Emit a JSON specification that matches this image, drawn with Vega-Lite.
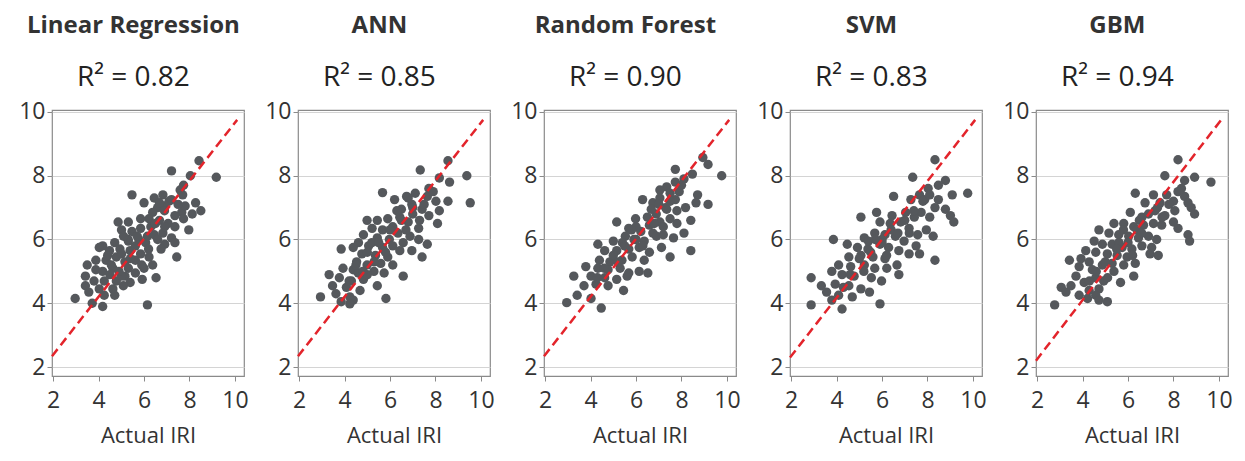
{
  "$schema": "https://vega.github.io/schema/vega-lite/v6.json",
  "padding": {"left": 18, "top": 13, "right": 5, "bottom": 5},
  "background": "white",
  "config": {
    "font": "Open Sans",
    "view": {"stroke": "#8a8a8a", "strokeWidth": 1.2},
    "concat": {"spacing": 15},
    "title": {"font": "Open Sans", "fontSize": 24, "fontWeight": "bold", "color": "#333333", "subtitleFont": "Open Sans", "subtitleFontSize": 28, "subtitleColor": "#222222", "subtitlePadding": 26, "offset": 9, "anchor": "middle", "frame": "bounds"},
    "axisX": {"grid": false, "domain": false, "tickColor": "#8a8a8a", "tickSize": 5, "labelFontSize": 23, "labelColor": "#333333", "labelPadding": 8, "titleFontSize": 22, "titleFontWeight": "normal", "titleColor": "#333333", "titlePadding": 13, "labelFont": "Open Sans", "titleFont": "Open Sans"},
    "axisY": {"grid": true, "gridColor": "#d4d4d4", "domain": false, "tickColor": "#8a8a8a", "tickSize": 5, "labelFontSize": 23, "labelColor": "#333333", "labelPadding": 2, "labelFont": "Open Sans"}
  },
  "datasets": {
    "points": [
      {"model":"LR","actual":8.42,"predicted":8.47},{"model":"LR","actual":7.21,"predicted":8.15},{"model":"LR","actual":9.18,"predicted":7.95},{"model":"LR","actual":8.04,"predicted":8.0},{"model":"LR","actual":7.74,"predicted":7.7},{"model":"LR","actual":7.59,"predicted":7.55},{"model":"LR","actual":5.47,"predicted":7.4},{"model":"LR","actual":6.0,"predicted":7.15},{"model":"LR","actual":6.45,"predicted":7.3},{"model":"LR","actual":6.83,"predicted":7.4},{"model":"LR","actual":7.21,"predicted":7.25},{"model":"LR","actual":6.91,"predicted":7.05},{"model":"LR","actual":8.27,"predicted":7.15},{"model":"LR","actual":8.5,"predicted":6.9},{"model":"LR","actual":8.12,"predicted":6.8},{"model":"LR","actual":7.66,"predicted":6.85},{"model":"LR","actual":7.36,"predicted":6.75},{"model":"LR","actual":6.6,"predicted":7.0},{"model":"LR","actual":6.38,"predicted":6.85},{"model":"LR","actual":6.22,"predicted":6.65},{"model":"LR","actual":6.68,"predicted":6.6},{"model":"LR","actual":7.06,"predicted":6.5},{"model":"LR","actual":7.97,"predicted":6.3},{"model":"LR","actual":7.36,"predicted":6.4},{"model":"LR","actual":5.31,"predicted":6.55},{"model":"LR","actual":4.86,"predicted":6.55},{"model":"LR","actual":5.01,"predicted":6.3},{"model":"LR","actual":5.47,"predicted":6.25},{"model":"LR","actual":5.85,"predicted":6.35},{"model":"LR","actual":6.15,"predicted":6.1},{"model":"LR","actual":6.45,"predicted":6.15},{"model":"LR","actual":6.83,"predicted":6.2},{"model":"LR","actual":7.21,"predicted":6.05},{"model":"LR","actual":6.91,"predicted":5.85},{"model":"LR","actual":7.36,"predicted":5.9},{"model":"LR","actual":6.75,"predicted":5.7},{"model":"LR","actual":7.44,"predicted":5.45},{"model":"LR","actual":6.07,"predicted":5.9},{"model":"LR","actual":5.77,"predicted":6.0},{"model":"LR","actual":5.31,"predicted":5.95},{"model":"LR","actual":4.71,"predicted":5.9},{"model":"LR","actual":4.18,"predicted":5.8},{"model":"LR","actual":4.03,"predicted":5.75},{"model":"LR","actual":4.48,"predicted":5.65},{"model":"LR","actual":4.94,"predicted":5.7},{"model":"LR","actual":5.39,"predicted":5.65},{"model":"LR","actual":5.85,"predicted":5.55},{"model":"LR","actual":6.22,"predicted":5.45},{"model":"LR","actual":5.62,"predicted":5.35},{"model":"LR","actual":5.16,"predicted":5.3},{"model":"LR","actual":4.78,"predicted":5.45},{"model":"LR","actual":4.33,"predicted":5.35},{"model":"LR","actual":3.5,"predicted":5.2},{"model":"LR","actual":3.88,"predicted":5.05},{"model":"LR","actual":4.63,"predicted":5.1},{"model":"LR","actual":5.31,"predicted":5.1},{"model":"LR","actual":6.38,"predicted":5.2},{"model":"LR","actual":6.0,"predicted":5.1},{"model":"LR","actual":5.62,"predicted":4.95},{"model":"LR","actual":5.16,"predicted":4.85},{"model":"LR","actual":6.53,"predicted":4.8},{"model":"LR","actual":3.42,"predicted":4.85},{"model":"LR","actual":3.8,"predicted":4.7},{"model":"LR","actual":4.25,"predicted":4.7},{"model":"LR","actual":4.78,"predicted":4.7},{"model":"LR","actual":5.39,"predicted":4.65},{"model":"LR","actual":3.42,"predicted":4.55},{"model":"LR","actual":4.03,"predicted":4.45},{"model":"LR","actual":4.63,"predicted":4.45},{"model":"LR","actual":2.97,"predicted":4.15},{"model":"LR","actual":3.57,"predicted":4.35},{"model":"LR","actual":4.25,"predicted":4.25},{"model":"LR","actual":4.71,"predicted":4.25},{"model":"LR","actual":3.72,"predicted":4.0},{"model":"LR","actual":4.18,"predicted":3.9},{"model":"LR","actual":6.15,"predicted":3.95},{"model":"LR","actual":5.01,"predicted":4.85},{"model":"LR","actual":5.09,"predicted":4.55},{"model":"LR","actual":5.85,"predicted":6.65},{"model":"LR","actual":6.3,"predicted":6.4},{"model":"LR","actual":5.62,"predicted":5.8},{"model":"LR","actual":5.01,"predicted":5.55},{"model":"LR","actual":4.56,"predicted":5.2},{"model":"LR","actual":4.18,"predicted":5.0},{"model":"LR","actual":5.92,"predicted":4.75},{"model":"LR","actual":6.91,"predicted":6.4},{"model":"LR","actual":7.74,"predicted":6.65},{"model":"LR","actual":7.81,"predicted":7.05},{"model":"LR","actual":6.68,"predicted":7.15},{"model":"LR","actual":3.88,"predicted":5.35},
      {"model":"LR","actual":5.3,"predicted":6.0},{"model":"LR","actual":5.7,"predicted":6.1},{"model":"LR","actual":6.5,"predicted":6.5},{"model":"LR","actual":6.9,"predicted":6.9},{"model":"LR","actual":7.1,"predicted":7.2},{"model":"LR","actual":7.5,"predicted":7.1},{"model":"LR","actual":5.9,"predicted":5.2},{"model":"LR","actual":5.4,"predicted":5.4},{"model":"LR","actual":4.9,"predicted":5.0},{"model":"LR","actual":4.5,"predicted":4.9},{"model":"LR","actual":6.2,"predicted":5.7},{"model":"LR","actual":6.6,"predicted":6.0},{"model":"LR","actual":7.7,"predicted":7.4},{"model":"LR","actual":4.4,"predicted":5.5},{"model":"LR","actual":5.1,"predicted":6.1},

      {"model":"ANN","actual":8.55,"predicted":8.47},{"model":"ANN","actual":7.33,"predicted":8.18},{"model":"ANN","actual":9.38,"predicted":8.0},{"model":"ANN","actual":8.17,"predicted":7.93},{"model":"ANN","actual":8.62,"predicted":7.8},{"model":"ANN","actual":9.53,"predicted":7.15},{"model":"ANN","actual":5.67,"predicted":7.47},{"model":"ANN","actual":6.2,"predicted":7.25},{"model":"ANN","actual":6.73,"predicted":7.35},{"model":"ANN","actual":7.11,"predicted":7.45},{"model":"ANN","actual":7.71,"predicted":7.6},{"model":"ANN","actual":7.64,"predicted":7.35},{"model":"ANN","actual":8.02,"predicted":7.2},{"model":"ANN","actual":8.55,"predicted":7.2},{"model":"ANN","actual":8.17,"predicted":6.9},{"model":"ANN","actual":8.09,"predicted":6.5},{"model":"ANN","actual":7.71,"predicted":6.75},{"model":"ANN","actual":7.41,"predicted":6.95},{"model":"ANN","actual":6.96,"predicted":7.1},{"model":"ANN","actual":6.5,"predicted":6.95},{"model":"ANN","actual":6.43,"predicted":6.7},{"model":"ANN","actual":6.8,"predicted":6.55},{"model":"ANN","actual":7.26,"predicted":6.35},{"model":"ANN","actual":4.99,"predicted":6.6},{"model":"ANN","actual":5.44,"predicted":6.6},{"model":"ANN","actual":5.9,"predicted":6.65},{"model":"ANN","actual":5.21,"predicted":6.35},{"model":"ANN","actual":5.67,"predicted":6.3},{"model":"ANN","actual":6.12,"predicted":6.4},{"model":"ANN","actual":6.35,"predicted":6.2},{"model":"ANN","actual":6.88,"predicted":6.1},{"model":"ANN","actual":7.26,"predicted":6.0},{"model":"ANN","actual":7.64,"predicted":5.85},{"model":"ANN","actual":6.58,"predicted":5.9},{"model":"ANN","actual":4.83,"predicted":6.15},{"model":"ANN","actual":5.44,"predicted":6.05},{"model":"ANN","actual":5.97,"predicted":6.0},{"model":"ANN","actual":4.61,"predicted":5.9},{"model":"ANN","actual":5.06,"predicted":5.8},{"model":"ANN","actual":5.67,"predicted":5.75},{"model":"ANN","actual":6.12,"predicted":5.8},{"model":"ANN","actual":6.43,"predicted":5.65},{"model":"ANN","actual":6.96,"predicted":5.65},{"model":"ANN","actual":7.41,"predicted":5.45},{"model":"ANN","actual":4.38,"predicted":5.75},{"model":"ANN","actual":3.85,"predicted":5.7},{"model":"ANN","actual":4.76,"predicted":5.55},{"model":"ANN","actual":5.36,"predicted":5.5},{"model":"ANN","actual":5.9,"predicted":5.45},{"model":"ANN","actual":4.53,"predicted":5.3},{"model":"ANN","actual":4.99,"predicted":5.2},{"model":"ANN","actual":5.59,"predicted":5.25},{"model":"ANN","actual":6.12,"predicted":5.2},{"model":"ANN","actual":3.93,"predicted":5.1},{"model":"ANN","actual":4.38,"predicted":5.05},{"model":"ANN","actual":5.29,"predicted":5.0},{"model":"ANN","actual":5.74,"predicted":4.95},{"model":"ANN","actual":6.58,"predicted":4.85},{"model":"ANN","actual":3.32,"predicted":4.9},{"model":"ANN","actual":3.77,"predicted":4.8},{"model":"ANN","actual":4.3,"predicted":4.7},{"model":"ANN","actual":4.83,"predicted":4.75},{"model":"ANN","actual":5.44,"predicted":4.55},{"model":"ANN","actual":3.47,"predicted":4.55},{"model":"ANN","actual":4.08,"predicted":4.5},{"model":"ANN","actual":4.68,"predicted":4.4},{"model":"ANN","actual":2.94,"predicted":4.2},{"model":"ANN","actual":3.62,"predicted":4.3},{"model":"ANN","actual":4.23,"predicted":4.2},{"model":"ANN","actual":5.82,"predicted":4.15},{"model":"ANN","actual":3.85,"predicted":4.05},{"model":"ANN","actual":4.38,"predicted":4.1},{"model":"ANN","actual":4.23,"predicted":3.98},{"model":"ANN","actual":5.2,"predicted":5.9},{"model":"ANN","actual":6.7,"predicted":6.3},{"model":"ANN","actual":7.0,"predicted":6.8},{"model":"ANN","actual":5.0,"predicted":4.9},{"model":"ANN","actual":4.6,"predicted":4.95},
      {"model":"ANN","actual":5.0,"predicted":5.6},{"model":"ANN","actual":5.5,"predicted":5.9},{"model":"ANN","actual":6.0,"predicted":6.3},{"model":"ANN","actual":6.5,"predicted":6.6},{"model":"ANN","actual":7.0,"predicted":7.0},{"model":"ANN","actual":7.5,"predicted":7.1},{"model":"ANN","actual":4.5,"predicted":5.2},{"model":"ANN","actual":5.8,"predicted":5.6},{"model":"ANN","actual":6.3,"predicted":6.9},{"model":"ANN","actual":7.3,"predicted":6.6},{"model":"ANN","actual":4.8,"predicted":5.0},{"model":"ANN","actual":5.3,"predicted":5.3},{"model":"ANN","actual":6.8,"predicted":7.3},{"model":"ANN","actual":4.2,"predicted":4.7},{"model":"ANN","actual":7.9,"predicted":7.5},

      {"model":"RF","actual":8.94,"predicted":8.57},{"model":"RF","actual":7.73,"predicted":8.2},{"model":"RF","actual":9.17,"predicted":8.35},{"model":"RF","actual":9.77,"predicted":8.0},{"model":"RF","actual":8.48,"predicted":8.05},{"model":"RF","actual":8.11,"predicted":7.9},{"model":"RF","actual":7.73,"predicted":7.8},{"model":"RF","actual":7.35,"predicted":7.65},{"model":"RF","actual":7.05,"predicted":7.55},{"model":"RF","actual":6.29,"predicted":7.25},{"model":"RF","actual":6.74,"predicted":7.15},{"model":"RF","actual":7.05,"predicted":7.3},{"model":"RF","actual":7.5,"predicted":7.45},{"model":"RF","actual":7.73,"predicted":7.25},{"model":"RF","actual":8.71,"predicted":7.4},{"model":"RF","actual":8.64,"predicted":7.15},{"model":"RF","actual":9.17,"predicted":7.1},{"model":"RF","actual":8.18,"predicted":7.0},{"model":"RF","actual":7.8,"predicted":6.9},{"model":"RF","actual":7.35,"predicted":6.95},{"model":"RF","actual":6.89,"predicted":6.8},{"model":"RF","actual":6.67,"predicted":6.95},{"model":"RF","actual":8.41,"predicted":6.6},{"model":"RF","actual":8.11,"predicted":6.2},{"model":"RF","actual":7.8,"predicted":6.5},{"model":"RF","actual":7.5,"predicted":6.65},{"model":"RF","actual":7.05,"predicted":6.55},{"model":"RF","actual":6.59,"predicted":6.45},{"model":"RF","actual":5.98,"predicted":6.65},{"model":"RF","actual":5.15,"predicted":6.55},{"model":"RF","actual":5.68,"predicted":6.35},{"model":"RF","actual":6.21,"predicted":6.25},{"model":"RF","actual":6.74,"predicted":6.2},{"model":"RF","actual":7.2,"predicted":6.15},{"model":"RF","actual":7.65,"predicted":6.05},{"model":"RF","actual":5.53,"predicted":6.1},{"model":"RF","actual":5.0,"predicted":5.95},{"model":"RF","actual":5.91,"predicted":6.0},{"model":"RF","actual":6.36,"predicted":5.95},{"model":"RF","actual":7.12,"predicted":5.75},{"model":"RF","actual":7.5,"predicted":5.45},{"model":"RF","actual":8.41,"predicted":5.65},{"model":"RF","actual":4.32,"predicted":5.85},{"model":"RF","actual":4.62,"predicted":5.65},{"model":"RF","actual":5.15,"predicted":5.65},{"model":"RF","actual":5.68,"predicted":5.7},{"model":"RF","actual":6.14,"predicted":5.75},{"model":"RF","actual":6.59,"predicted":5.6},{"model":"RF","actual":6.36,"predicted":5.35},{"model":"RF","actual":5.83,"predicted":5.45},{"model":"RF","actual":5.38,"predicted":5.35},{"model":"RF","actual":4.85,"predicted":5.3},{"model":"RF","actual":4.39,"predicted":5.35},{"model":"RF","actual":3.79,"predicted":5.15},{"model":"RF","actual":4.32,"predicted":5.1},{"model":"RF","actual":4.77,"predicted":5.05},{"model":"RF","actual":5.3,"predicted":5.1},{"model":"RF","actual":5.68,"predicted":4.95},{"model":"RF","actual":6.14,"predicted":5.0},{"model":"RF","actual":6.52,"predicted":4.95},{"model":"RF","actual":3.26,"predicted":4.85},{"model":"RF","actual":4.02,"predicted":4.85},{"model":"RF","actual":4.62,"predicted":4.8},{"model":"RF","actual":5.15,"predicted":4.75},{"model":"RF","actual":5.61,"predicted":4.85},{"model":"RF","actual":3.71,"predicted":4.55},{"model":"RF","actual":4.24,"predicted":4.6},{"model":"RF","actual":4.77,"predicted":4.55},{"model":"RF","actual":5.45,"predicted":4.4},{"model":"RF","actual":3.41,"predicted":4.25},{"model":"RF","actual":4.02,"predicted":4.15},{"model":"RF","actual":4.47,"predicted":3.85},{"model":"RF","actual":2.95,"predicted":4.02},{"model":"RF","actual":6.0,"predicted":6.4},{"model":"RF","actual":7.3,"predicted":7.0},{"model":"RF","actual":6.9,"predicted":6.1},{"model":"RF","actual":5.4,"predicted":5.9},
      {"model":"RF","actual":5.0,"predicted":5.5},{"model":"RF","actual":5.5,"predicted":5.8},{"model":"RF","actual":6.0,"predicted":6.0},{"model":"RF","actual":6.5,"predicted":6.7},{"model":"RF","actual":7.0,"predicted":7.1},{"model":"RF","actual":7.5,"predicted":7.2},{"model":"RF","actual":7.9,"predicted":7.5},{"model":"RF","actual":4.6,"predicted":5.1},{"model":"RF","actual":5.2,"predicted":5.3},{"model":"RF","actual":6.3,"predicted":5.8},{"model":"RF","actual":6.8,"predicted":6.5},{"model":"RF","actual":7.2,"predicted":6.4},{"model":"RF","actual":8.0,"predicted":7.7},{"model":"RF","actual":4.3,"predicted":4.8},{"model":"RF","actual":5.8,"predicted":6.3},

      {"model":"SVM","actual":8.33,"predicted":8.5},{"model":"SVM","actual":7.35,"predicted":7.95},{"model":"SVM","actual":8.79,"predicted":7.85},{"model":"SVM","actual":8.48,"predicted":7.7},{"model":"SVM","actual":8.03,"predicted":7.6},{"model":"SVM","actual":7.65,"predicted":7.4},{"model":"SVM","actual":6.51,"predicted":7.35},{"model":"SVM","actual":7.27,"predicted":7.25},{"model":"SVM","actual":7.88,"predicted":7.25},{"model":"SVM","actual":9.09,"predicted":7.4},{"model":"SVM","actual":9.77,"predicted":7.45},{"model":"SVM","actual":8.48,"predicted":7.25},{"model":"SVM","actual":8.33,"predicted":7.0},{"model":"SVM","actual":8.79,"predicted":6.95},{"model":"SVM","actual":9.01,"predicted":6.75},{"model":"SVM","actual":9.16,"predicted":6.55},{"model":"SVM","actual":8.1,"predicted":6.7},{"model":"SVM","actual":7.72,"predicted":6.85},{"model":"SVM","actual":7.42,"predicted":6.7},{"model":"SVM","actual":7.04,"predicted":6.85},{"model":"SVM","actual":6.44,"predicted":6.75},{"model":"SVM","actual":5.07,"predicted":6.7},{"model":"SVM","actual":5.76,"predicted":6.85},{"model":"SVM","actual":5.91,"predicted":6.55},{"model":"SVM","actual":6.36,"predicted":6.5},{"model":"SVM","actual":6.82,"predicted":6.55},{"model":"SVM","actual":7.19,"predicted":6.35},{"model":"SVM","actual":7.95,"predicted":6.3},{"model":"SVM","actual":7.57,"predicted":6.15},{"model":"SVM","actual":8.25,"predicted":6.1},{"model":"SVM","actual":3.86,"predicted":6.0},{"model":"SVM","actual":4.47,"predicted":5.85},{"model":"SVM","actual":5.22,"predicted":6.05},{"model":"SVM","actual":5.68,"predicted":6.2},{"model":"SVM","actual":6.13,"predicted":6.15},{"model":"SVM","actual":6.59,"predicted":6.1},{"model":"SVM","actual":6.97,"predicted":5.95},{"model":"SVM","actual":7.5,"predicted":5.8},{"model":"SVM","actual":7.19,"predicted":5.55},{"model":"SVM","actual":7.65,"predicted":5.55},{"model":"SVM","actual":8.33,"predicted":5.35},{"model":"SVM","actual":4.92,"predicted":5.75},{"model":"SVM","actual":5.38,"predicted":5.7},{"model":"SVM","actual":5.91,"predicted":5.85},{"model":"SVM","actual":6.29,"predicted":5.75},{"model":"SVM","actual":6.74,"predicted":5.65},{"model":"SVM","actual":4.54,"predicted":5.45},{"model":"SVM","actual":5.07,"predicted":5.5},{"model":"SVM","actual":5.6,"predicted":5.45},{"model":"SVM","actual":6.13,"predicted":5.4},{"model":"SVM","actual":6.66,"predicted":5.2},{"model":"SVM","actual":4.09,"predicted":5.2},{"model":"SVM","actual":4.62,"predicted":5.15},{"model":"SVM","actual":5.22,"predicted":5.2},{"model":"SVM","actual":5.68,"predicted":5.1},{"model":"SVM","actual":6.21,"predicted":5.1},{"model":"SVM","actual":6.74,"predicted":4.9},{"model":"SVM","actual":2.88,"predicted":4.8},{"model":"SVM","actual":3.79,"predicted":5.0},{"model":"SVM","actual":4.24,"predicted":4.9},{"model":"SVM","actual":4.77,"predicted":4.85},{"model":"SVM","actual":5.53,"predicted":4.8},{"model":"SVM","actual":5.98,"predicted":4.7},{"model":"SVM","actual":3.33,"predicted":4.55},{"model":"SVM","actual":3.94,"predicted":4.6},{"model":"SVM","actual":4.54,"predicted":4.55},{"model":"SVM","actual":5.07,"predicted":4.45},{"model":"SVM","actual":5.45,"predicted":4.35},{"model":"SVM","actual":3.56,"predicted":4.35},{"model":"SVM","actual":4.09,"predicted":4.25},{"model":"SVM","actual":4.69,"predicted":4.2},{"model":"SVM","actual":2.88,"predicted":3.95},{"model":"SVM","actual":4.24,"predicted":3.82},{"model":"SVM","actual":5.91,"predicted":3.98},{"model":"SVM","actual":3.79,"predicted":4.1},{"model":"SVM","actual":6.0,"predicted":6.0},{"model":"SVM","actual":5.4,"predicted":5.95},
      {"model":"SVM","actual":5.0,"predicted":5.4},{"model":"SVM","actual":5.5,"predicted":5.6},{"model":"SVM","actual":6.0,"predicted":5.9},{"model":"SVM","actual":6.4,"predicted":6.3},{"model":"SVM","actual":7.0,"predicted":6.6},{"model":"SVM","actual":7.4,"predicted":6.9},{"model":"SVM","actual":7.8,"predicted":7.2},{"model":"SVM","actual":4.6,"predicted":4.9},{"model":"SVM","actual":5.2,"predicted":5.0},{"model":"SVM","actual":6.2,"predicted":5.5},{"model":"SVM","actual":6.7,"predicted":6.2},{"model":"SVM","actual":7.2,"predicted":6.2},{"model":"SVM","actual":8.1,"predicted":7.4},{"model":"SVM","actual":4.3,"predicted":4.5},{"model":"SVM","actual":5.7,"predicted":6.0},

      {"model":"GBM","actual":8.2,"predicted":8.5},{"model":"GBM","actual":7.62,"predicted":8.0},{"model":"GBM","actual":8.93,"predicted":7.95},{"model":"GBM","actual":9.65,"predicted":7.8},{"model":"GBM","actual":8.49,"predicted":7.85},{"model":"GBM","actual":8.35,"predicted":7.6},{"model":"GBM","actual":6.32,"predicted":7.45},{"model":"GBM","actual":7.12,"predicted":7.4},{"model":"GBM","actual":7.7,"predicted":7.4},{"model":"GBM","actual":8.49,"predicted":7.35},{"model":"GBM","actual":8.0,"predicted":7.2},{"model":"GBM","actual":7.41,"predicted":7.15},{"model":"GBM","actual":6.75,"predicted":7.15},{"model":"GBM","actual":8.64,"predicted":7.15},{"model":"GBM","actual":8.93,"predicted":6.8},{"model":"GBM","actual":8.78,"predicted":7.0},{"model":"GBM","actual":8.06,"predicted":6.9},{"model":"GBM","actual":7.62,"predicted":6.75},{"model":"GBM","actual":7.19,"predicted":6.9},{"model":"GBM","actual":6.1,"predicted":6.85},{"model":"GBM","actual":6.61,"predicted":6.7},{"model":"GBM","actual":8.0,"predicted":6.55},{"model":"GBM","actual":8.2,"predicted":6.35},{"model":"GBM","actual":8.64,"predicted":6.15},{"model":"GBM","actual":8.71,"predicted":5.95},{"model":"GBM","actual":5.38,"predicted":6.5},{"model":"GBM","actual":5.81,"predicted":6.5},{"model":"GBM","actual":6.25,"predicted":6.4},{"model":"GBM","actual":6.68,"predicted":6.45},{"model":"GBM","actual":7.12,"predicted":6.5},{"model":"GBM","actual":7.48,"predicted":6.45},{"model":"GBM","actual":4.72,"predicted":6.3},{"model":"GBM","actual":5.16,"predicted":6.2},{"model":"GBM","actual":5.59,"predicted":6.15},{"model":"GBM","actual":6.03,"predicted":6.1},{"model":"GBM","actual":6.46,"predicted":6.05},{"model":"GBM","actual":6.9,"predicted":6.1},{"model":"GBM","actual":7.26,"predicted":6.0},{"model":"GBM","actual":6.61,"predicted":5.8},{"model":"GBM","actual":7.04,"predicted":5.75},{"model":"GBM","actual":6.97,"predicted":5.55},{"model":"GBM","actual":7.33,"predicted":5.5},{"model":"GBM","actual":4.51,"predicted":5.95},{"model":"GBM","actual":4.87,"predicted":5.85},{"model":"GBM","actual":5.3,"predicted":5.85},{"model":"GBM","actual":5.74,"predicted":5.75},{"model":"GBM","actual":6.17,"predicted":5.7},{"model":"GBM","actual":4.14,"predicted":5.65},{"model":"GBM","actual":4.58,"predicted":5.6},{"model":"GBM","actual":5.09,"predicted":5.55},{"model":"GBM","actual":5.52,"predicted":5.5},{"model":"GBM","actual":5.96,"predicted":5.45},{"model":"GBM","actual":3.42,"predicted":5.35},{"model":"GBM","actual":3.93,"predicted":5.4},{"model":"GBM","actual":4.29,"predicted":5.3},{"model":"GBM","actual":4.87,"predicted":5.2},{"model":"GBM","actual":5.3,"predicted":5.25},{"model":"GBM","actual":5.81,"predicted":5.2},{"model":"GBM","actual":6.32,"predicted":5.25},{"model":"GBM","actual":3.85,"predicted":5.15},{"model":"GBM","actual":4.43,"predicted":5.05},{"model":"GBM","actual":5.38,"predicted":5.0},{"model":"GBM","actual":6.25,"predicted":4.85},{"model":"GBM","actual":3.71,"predicted":4.85},{"model":"GBM","actual":4.07,"predicted":4.65},{"model":"GBM","actual":4.58,"predicted":4.8},{"model":"GBM","actual":4.93,"predicted":4.7},{"model":"GBM","actual":5.67,"predicted":4.65},{"model":"GBM","actual":3.06,"predicted":4.5},{"model":"GBM","actual":3.49,"predicted":4.55},{"model":"GBM","actual":3.27,"predicted":4.35},{"model":"GBM","actual":4.29,"predicted":4.4},{"model":"GBM","actual":4.72,"predicted":4.45},{"model":"GBM","actual":4.58,"predicted":4.25},{"model":"GBM","actual":2.77,"predicted":3.95},{"model":"GBM","actual":4.22,"predicted":4.15},{"model":"GBM","actual":4.72,"predicted":4.1},{"model":"GBM","actual":5.09,"predicted":4.05},{"model":"GBM","actual":3.85,"predicted":4.25},{"model":"GBM","actual":5.6,"predicted":5.9},{"model":"GBM","actual":6.5,"predicted":6.6},
      {"model":"GBM","actual":5.0,"predicted":5.3},{"model":"GBM","actual":5.5,"predicted":5.7},{"model":"GBM","actual":6.0,"predicted":5.9},{"model":"GBM","actual":6.4,"predicted":6.3},{"model":"GBM","actual":6.9,"predicted":6.8},{"model":"GBM","actual":7.3,"predicted":7.0},{"model":"GBM","actual":7.8,"predicted":7.1},{"model":"GBM","actual":4.6,"predicted":5.0},{"model":"GBM","actual":5.1,"predicted":4.8},{"model":"GBM","actual":6.2,"predicted":5.5},{"model":"GBM","actual":6.6,"predicted":6.2},{"model":"GBM","actual":7.5,"predicted":6.7},{"model":"GBM","actual":8.2,"predicted":7.5},{"model":"GBM","actual":4.3,"predicted":4.7},{"model":"GBM","actual":5.8,"predicted":6.3}
    ],
    "lines": [
      {"model":"LR","actual":1.95,"predicted":2.34},{"model":"LR","actual":10.1,"predicted":9.75},
      {"model":"ANN","actual":1.95,"predicted":2.34},{"model":"ANN","actual":10.1,"predicted":9.75},
      {"model":"RF","actual":1.95,"predicted":2.34},{"model":"RF","actual":10.1,"predicted":9.75},
      {"model":"SVM","actual":1.95,"predicted":2.3},{"model":"SVM","actual":10.1,"predicted":9.75},
      {"model":"GBM","actual":1.95,"predicted":2.2},{"model":"GBM","actual":10.1,"predicted":9.75}
    ]
  },
  "hconcat": [
    {"width": 192, "height": 266, "title": {"text": "Linear Regression", "subtitle": "R² = 0.82"},
     "layer": [
      {"data": {"name": "points"}, "transform": [{"filter": "datum.model === 'LR'"}], "mark": {"type": "circle", "size": 88, "color": "#55585c", "opacity": 1},
       "encoding": {"x": {"field": "actual", "type": "quantitative", "scale": {"domain": [1.95, 10.4], "nice": false, "zero": false}, "axis": {"values": [2, 4, 6, 8, 10], "title": "Actual IRI"}}, "y": {"field": "predicted", "type": "quantitative", "scale": {"domain": [1.72, 10.06], "nice": false, "zero": false}, "axis": {"values": [2, 4, 6, 8, 10], "title": null}}}},
      {"data": {"name": "lines"}, "transform": [{"filter": "datum.model === 'LR'"}], "mark": {"type": "line", "color": "#e3242b", "strokeWidth": 2.5, "strokeDash": [9, 5]},
       "encoding": {"x": {"field": "actual", "type": "quantitative"}, "y": {"field": "predicted", "type": "quantitative"}}}
     ]},
    {"width": 192, "height": 266, "title": {"text": "ANN", "subtitle": "R² = 0.85"},
     "layer": [
      {"data": {"name": "points"}, "transform": [{"filter": "datum.model === 'ANN'"}], "mark": {"type": "circle", "size": 88, "color": "#55585c", "opacity": 1},
       "encoding": {"x": {"field": "actual", "type": "quantitative", "scale": {"domain": [1.95, 10.4], "nice": false, "zero": false}, "axis": {"values": [2, 4, 6, 8, 10], "title": "Actual IRI"}}, "y": {"field": "predicted", "type": "quantitative", "scale": {"domain": [1.72, 10.06], "nice": false, "zero": false}, "axis": {"values": [2, 4, 6, 8, 10], "title": null}}}},
      {"data": {"name": "lines"}, "transform": [{"filter": "datum.model === 'ANN'"}], "mark": {"type": "line", "color": "#e3242b", "strokeWidth": 2.5, "strokeDash": [9, 5]},
       "encoding": {"x": {"field": "actual", "type": "quantitative"}, "y": {"field": "predicted", "type": "quantitative"}}}
     ]},
    {"width": 192, "height": 266, "title": {"text": "Random Forest", "subtitle": "R² = 0.90"},
     "layer": [
      {"data": {"name": "points"}, "transform": [{"filter": "datum.model === 'RF'"}], "mark": {"type": "circle", "size": 88, "color": "#55585c", "opacity": 1},
       "encoding": {"x": {"field": "actual", "type": "quantitative", "scale": {"domain": [1.95, 10.4], "nice": false, "zero": false}, "axis": {"values": [2, 4, 6, 8, 10], "title": "Actual IRI"}}, "y": {"field": "predicted", "type": "quantitative", "scale": {"domain": [1.72, 10.06], "nice": false, "zero": false}, "axis": {"values": [2, 4, 6, 8, 10], "title": null}}}},
      {"data": {"name": "lines"}, "transform": [{"filter": "datum.model === 'RF'"}], "mark": {"type": "line", "color": "#e3242b", "strokeWidth": 2.5, "strokeDash": [9, 5]},
       "encoding": {"x": {"field": "actual", "type": "quantitative"}, "y": {"field": "predicted", "type": "quantitative"}}}
     ]},
    {"width": 192, "height": 266, "title": {"text": "SVM", "subtitle": "R² = 0.83"},
     "layer": [
      {"data": {"name": "points"}, "transform": [{"filter": "datum.model === 'SVM'"}], "mark": {"type": "circle", "size": 88, "color": "#55585c", "opacity": 1},
       "encoding": {"x": {"field": "actual", "type": "quantitative", "scale": {"domain": [1.95, 10.4], "nice": false, "zero": false}, "axis": {"values": [2, 4, 6, 8, 10], "title": "Actual IRI"}}, "y": {"field": "predicted", "type": "quantitative", "scale": {"domain": [1.72, 10.06], "nice": false, "zero": false}, "axis": {"values": [2, 4, 6, 8, 10], "title": null}}}},
      {"data": {"name": "lines"}, "transform": [{"filter": "datum.model === 'SVM'"}], "mark": {"type": "line", "color": "#e3242b", "strokeWidth": 2.5, "strokeDash": [9, 5]},
       "encoding": {"x": {"field": "actual", "type": "quantitative"}, "y": {"field": "predicted", "type": "quantitative"}}}
     ]},
    {"width": 192, "height": 266, "title": {"text": "GBM", "subtitle": "R² = 0.94"},
     "layer": [
      {"data": {"name": "points"}, "transform": [{"filter": "datum.model === 'GBM'"}], "mark": {"type": "circle", "size": 88, "color": "#55585c", "opacity": 1},
       "encoding": {"x": {"field": "actual", "type": "quantitative", "scale": {"domain": [1.95, 10.4], "nice": false, "zero": false}, "axis": {"values": [2, 4, 6, 8, 10], "title": "Actual IRI"}}, "y": {"field": "predicted", "type": "quantitative", "scale": {"domain": [1.72, 10.06], "nice": false, "zero": false}, "axis": {"values": [2, 4, 6, 8, 10], "title": null}}}},
      {"data": {"name": "lines"}, "transform": [{"filter": "datum.model === 'GBM'"}], "mark": {"type": "line", "color": "#e3242b", "strokeWidth": 2.5, "strokeDash": [9, 5]},
       "encoding": {"x": {"field": "actual", "type": "quantitative"}, "y": {"field": "predicted", "type": "quantitative"}}}
     ]}
  ]
}
